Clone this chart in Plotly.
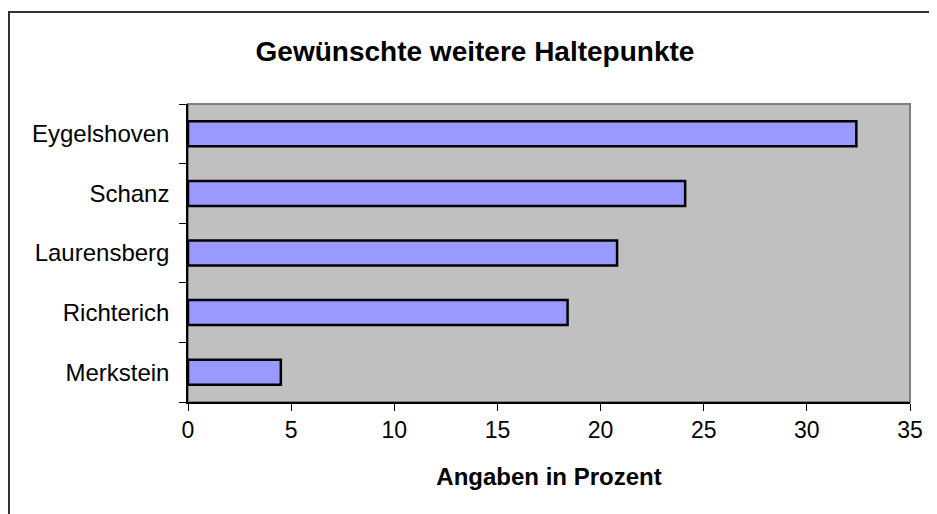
import plotly.graph_objects as go

categories = ["Eygelshoven", "Schanz", "Laurensberg", "Richterich", "Merkstein"]
values = [32.4, 24.1, 20.8, 18.4, 4.5]
x_ticks = [0, 5, 10, 15, 20, 25, 30, 35]

# page body has an 8px margin; figure coords = screen coords - 8
OFF = 8
W, H = 937 - OFF, 514 - OFF
L, R, T, B = 188 - OFF, 910 - OFF, 104 - OFF, 402 - OFF

fig = go.Figure(go.Bar(
    y=categories, x=values, orientation="h",
    marker=dict(color="#9999FF", line=dict(color="black", width=2.5)),
))

def px_to_paper_x(px):
    return (px - L) / (R - L)

def px_to_paper_y(py):
    return (B - py) / (B - T)

fig.update_layout(
    width=W, height=H,
    margin=dict(l=L, r=W - R, t=T, b=H - B, pad=0),
    paper_bgcolor="white", plot_bgcolor="#C0C0C0",
    bargap=0.58,
    showlegend=False,
    font=dict(family="Liberation Sans, Arial, sans-serif", color="black", size=23),
    title=dict(text="<b>Gewünschte weitere Haltepunkte</b>",
               font=dict(size=28, color="black"),
               x=(475 - OFF) / W, xanchor="center", xref="container",
               y=1 - (51 - OFF) / H, yanchor="middle", yref="container"),
    xaxis=dict(range=[0, 35], tickvals=x_ticks, ticktext=[str(v) for v in x_ticks],
               ticks="outside", ticklen=7, tickcolor="black", tickwidth=1,
               showline=True, linecolor="black", linewidth=1.5,
               showgrid=False, zeroline=False, fixedrange=True,
               tickfont=dict(size=23),
               title=dict(text="<b>Angaben in Prozent</b>", font=dict(size=24), standoff=26)),
    yaxis=dict(categoryorder="array", categoryarray=categories[::-1],
               ticks="outside", ticklen=7, tickcolor="black", tickwidth=1,
               tickson="boundaries", ticklabelstandoff=12,
               showline=True, linecolor="black", linewidth=1.5,
               showgrid=False, zeroline=False, fixedrange=True,
               tickfont=dict(size=24)),
    shapes=[
        dict(type="rect", xref="paper", yref="paper", x0=0, x1=1, y0=0, y1=1,
             line=dict(color="#808080", width=2), layer="below"),
        dict(type="line", xref="paper", yref="paper",
             x0=px_to_paper_x(1), x1=px_to_paper_x(1),
             y0=px_to_paper_y(4), y1=px_to_paper_y(H + 20),
             line=dict(color="#333333", width=2)),
        dict(type="line", xref="paper", yref="paper",
             x0=px_to_paper_x(0), x1=px_to_paper_x(W + 20),
             y0=px_to_paper_y(4), y1=px_to_paper_y(4),
             line=dict(color="#333333", width=2)),
    ],
)

fig.write_html("out.html")
